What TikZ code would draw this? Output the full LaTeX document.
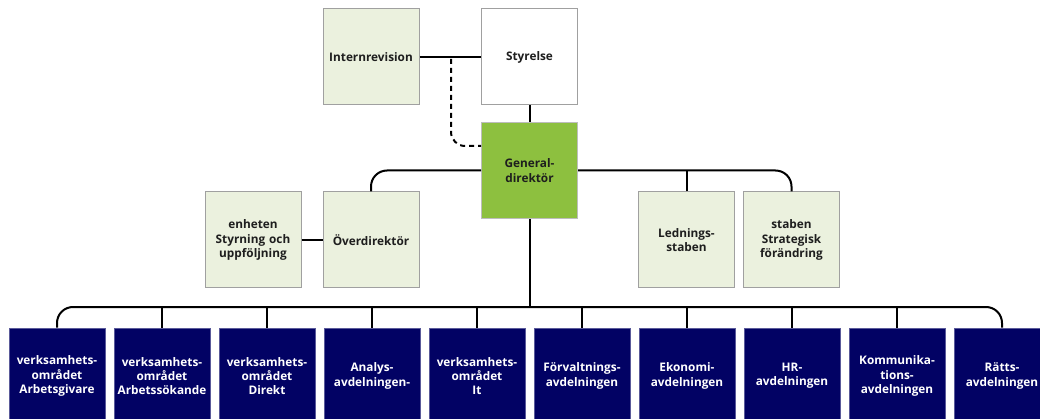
\documentclass[tikz,border=0pt]{standalone}
\usepackage{fontspec}
\setmainfont{Open Sans}
\definecolor{lgreen}{HTML}{EBF1DE}
\definecolor{lgborder}{HTML}{A0A0A0}
\definecolor{gdgreen}{HTML}{8DC03F}
\definecolor{navy}{HTML}{020264}
\definecolor{navyborder}{HTML}{5A5A9A}
\definecolor{txt}{HTML}{1E1E1E}
\begin{document}
\begin{tikzpicture}[x=1pt,y=-1pt,
  box/.style={draw=lgborder,line width=1pt,minimum width=96pt,minimum height=96pt,inner sep=0pt,
     text width=94pt,align=center,font=\fontsize{11.8}{14.2}\selectfont\bfseries,text=txt},
  lbox/.style={box,fill=lgreen},
  wbox/.style={box,fill=white},
  gbox/.style={box,fill=gdgreen,draw=lgborder!70},
  nbox/.style={box,fill=navy,draw=navyborder,text=white,minimum height=96pt},
  conn/.style={line width=2pt,black},
  dconn/.style={conn,dash pattern=on 5pt off 4pt},
]
\useasboundingbox (0,0) rectangle (1040,419);
\clip (0,0) rectangle (1040,419);

\node[lbox] (ir) at (371,57) {Internrevision};
\node[wbox] (st) at (529.5,57) {Styrelse};
\node[gbox] (gd) at (529.5,170.5) {General-\\direktör};
\node[lbox] (es) at (253,240) {enheten\\Styrning och\\uppföljning};
\node[lbox] (od) at (371,240) {Överdirektör};
\node[lbox] (ls) at (686.5,240) {Lednings-\\staben};
\node[lbox] (ss) at (791.5,240) {staben\\Strategisk\\förändring};

\node[nbox] (b1) at (57,376) {verksamhets-\\området\\Arbetsgivare};
\node[nbox] (b2) at (162,376) {verksamhets-\\området\\Arbetssökande};
\node[nbox] (b3) at (267,376) {verksamhets-\\området\\Direkt};
\node[nbox] (b4) at (372,376) {Analys-\\avdelningen-};
\node[nbox] (b5) at (477,376) {verksamhets-\\området\\It};
\node[nbox] (b6) at (582,376) {Förvaltnings-\\avdelningen};
\node[nbox] (b7) at (687,376) {Ekonomi-\\avdelningen};
\node[nbox] (b8) at (792,376) {HR-\\avdelningen};
\node[nbox] (b9) at (897,376) {Kommunika-\\tions-\\avdelningen};
\node[nbox] (b10) at (1002,376) {Rätts-\\avdelningen};

% top connectors
\draw[conn] (ir.east) -- (st.west);
\draw[conn] (st.south) -- (gd.north);
\coordinate (dj) at (451,59);
\draw[dconn,rounded corners=14pt] (dj) |- ([yshift=-24pt]gd.north west);

% middle level
\draw[conn,rounded corners=16pt] (gd.west) -| (od.north);
\draw[conn,rounded corners=16pt] (gd.east) -| (ss.north);
\draw[conn] (ls.north) -- (ls.north |- gd.east);
\draw[conn] (es.east) -- (od.west);

% bottom bus
\coordinate (bus) at (529.5,307);
\draw[conn] (gd.south) -- (bus);
\draw[conn,rounded corners=16pt] (b1.north) |- (bus) -| (b10.north);
\foreach \b in {b2,b3,b4,b5,b6,b7,b8,b9}{
  \draw[conn] (\b.north) -- (\b.north |- bus);
}
\end{tikzpicture}
\end{document}
